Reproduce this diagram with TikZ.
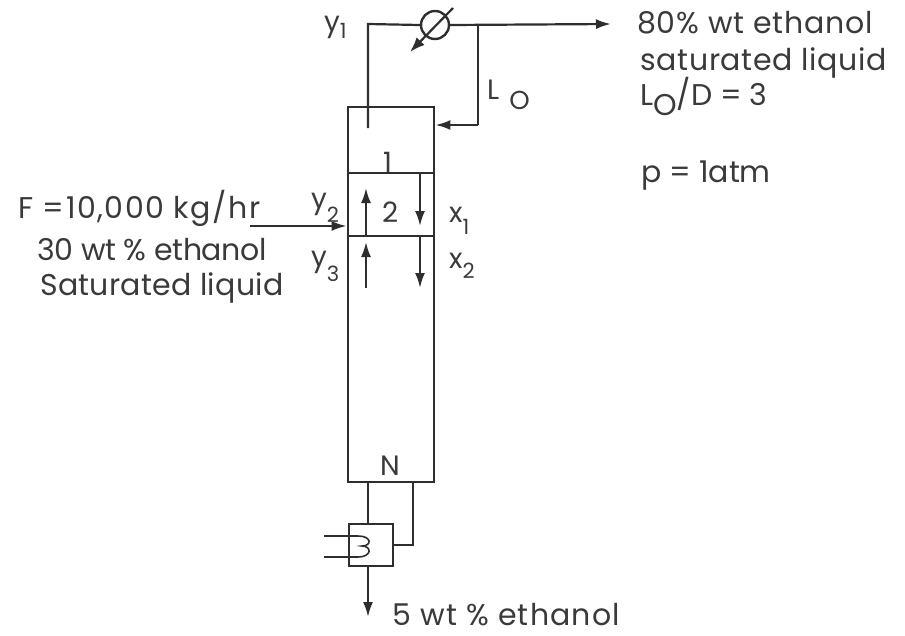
\documentclass[tikz,border=0pt]{standalone}
\usepackage{fontspec}
\setmainfont{Poppins}
\usepackage{xcolor}
\usetikzlibrary{arrows.meta, positioning}
\definecolor{inkgray}{HTML}{2e2e2e}
\definecolor{textgray}{HTML}{3a3a3a}
\newcommand{\subsize}{\fontsize{21}{21}\selectfont}
\begin{document}
\begin{tikzpicture}[
  x=1pt, y=-1pt,
  column/.style={draw=inkgray, line width=2.8pt, minimum width=86pt, minimum height=375pt, inner sep=0pt},
  reboiler/.style={draw=inkgray, line width=2.6pt, minimum width=44pt, minimum height=42pt, inner sep=0pt},
  condenser/.style={draw=inkgray, line width=2.4pt, circle, minimum size=28pt, inner sep=0pt},
  pipe/.style={draw=inkgray, line width=2.2pt},
  flow/.style={pipe, -{Latex[length=15pt,width=10pt]}},
  tag/.style={text=textgray, font=\fontsize{28}{28}\selectfont, inner sep=0pt, anchor=base west},
  note/.style={tag, font=\fontsize{30}{30}\selectfont\addfontfeature{LetterSpace=#1}},
  note/.default=0
]
\useasboundingbox (0,0) rectangle (905,635);
\node[column] (tower) at (391,294.5) {};
\node[condenser] (cond) at (435,25) {};
\node[reboiler] (reb) at (371,545) {};
% free ends and tray positions
\coordinate (product) at (611,24);
\coordinate (tee) at (478,24);
\coordinate (elbow) at (368,24);
\coordinate (vapin) at (368,128);
\coordinate (refluxin) at (478,125);
\coordinate (feedin) at (250,226);
\coordinate (bottoms) at (368,617);
\coordinate (tray1) at (348,173);
\coordinate (tray2) at (348,236);
\coordinate (duty) at (453,8);
\coordinate (dutyend) at (410,52);
\coordinate (coilA) at (324,536);
\coordinate (coilB) at (324,557);
% overhead
\draw[pipe] (vapin) -- (elbow) -- (cond.west);
\draw[flow] (cond.east) -- (product);
\draw[pipe] (tee) -- (refluxin);
\draw[flow] (refluxin) -- (refluxin -| tower.east);
\draw[pipe, -{Latex[length=15pt,width=11pt]}] (duty) -- (dutyend);
% trays
\draw[pipe] (tray1) -- (tray1 -| tower.east);
\draw[pipe] (tray2) -- (tray2 -| tower.east);
\draw[flow] (366,236) -- (366,188);
\draw[flow] (420,173) -- (420,226);
\draw[flow] (366,288) -- (366,242);
\draw[flow] (420,236) -- (420,288);
\draw[flow] (feedin) -- (feedin -| tower.west);
% bottom
\draw[pipe] (tower.south -| elbow) -- (reb.north -| elbow);
\draw[pipe] (413,482) -- (413,545) -- (reb.east);
\draw[flow] (reb.south -| elbow) -- (bottoms);
\draw[pipe, line width=1.6pt] (coilA) -- (358,536) .. controls (372,536) and (372,546) .. (362,546)
  .. controls (372,546) and (372,557) .. (358,557) -- (coilB);
% labels
\node[tag] (ya) at (324,31) {y\raisebox{-7pt}{\subsize 1}};
\node[tag] (yb) at (311,208) {y\raisebox{-14pt}{\subsize 2}};
\node[tag] (yc) at (311,266) {y\raisebox{-15pt}{\subsize 3}};
\node[tag] (xa) at (449,222) {x\raisebox{-12pt}{\subsize 1}};
\node[tag] (xb) at (449,268) {x\raisebox{-10pt}{\subsize 2}};
\node[tag] (lo) at (487,99) {L\hspace{10pt}\raisebox{-10pt}{\fontsize{26}{26}\selectfont O}};
\node[tag] (ta) at (383,172) {1};
\node[tag] (tb) at (382,222) {2};
\node[tag] (tn) at (380,475) {N};
\node[note=2.6] (over) at (637,33) {80\% wt ethanol};
\node[note=2.3] (sat) at (640,70) {saturated liquid};
\node[note] (ratio) at (640,105) {L\raisebox{-10pt}{O}/D = 3};
\node[note] (press) at (641,182) {p = 1atm};
\node[note=5] (rate) at (18,218) {F =10,000 kg/hr};
\node[note=-1.2] (feedw) at (37,260) {30 wt \% ethanol};
\node[note=1] (feeds) at (40,295) {Saturated liquid};
\node[note=4] (botw) at (392,625) {5 wt \% ethanol};
\end{tikzpicture}
\end{document}
